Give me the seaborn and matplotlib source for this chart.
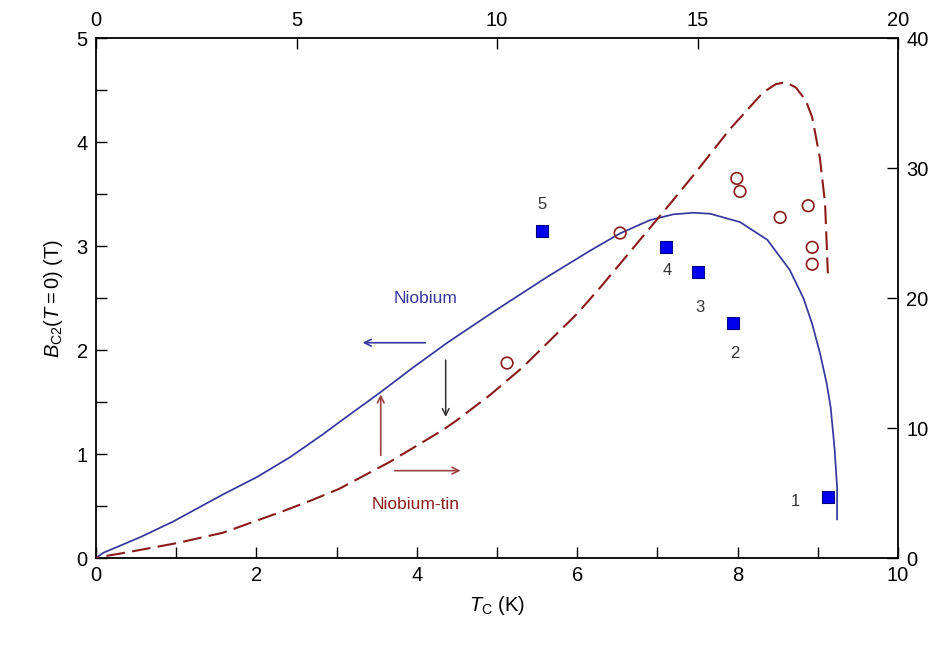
import matplotlib
matplotlib.use("Agg")
import matplotlib.pyplot as plt
import seaborn as sns
import pandas as pd
import numpy as np
from matplotlib.ticker import MultipleLocator

# Niobium curve (bottom / left axes)
nb_tc = [0.0, 0.09, 0.55, 0.96, 1.58, 2.01, 2.42, 2.83, 3.04, 3.54, 3.95, 4.38, 4.66, 5.0, 5.62,
         6.16, 6.53, 6.91, 7.2, 7.45, 7.66, 8.03, 8.37, 8.65, 8.82, 8.93, 9.03, 9.11, 9.16, 9.21, 9.24, 9.24]
nb_bc2 = [0.0, 0.05, 0.20, 0.35, 0.61, 0.78, 0.97, 1.19, 1.31, 1.59, 1.83, 2.07, 2.215, 2.39, 2.70,
          2.955, 3.12, 3.25, 3.305, 3.32, 3.31, 3.23, 3.06, 2.77, 2.50, 2.25, 1.96, 1.68, 1.45, 1.04, 0.68, 0.37]

# Niobium-tin curve (top / right axes)
nbsn_tc = [0.0, 0.1, 0.67, 2.02, 3.17, 4.66, 5.34, 6.05, 7.33, 8.65, 9.0, 9.83, 10.65, 12.0, 12.57,
           13.14, 13.49, 14.06, 14.49, 14.99, 15.81, 16.63, 16.95, 17.2, 17.45, 17.7, 17.86, 18.05, 18.18, 18.25]
nbsn_bc2 = [0.0, 0.08, 0.38, 1.15, 1.95, 3.6, 4.4, 5.3, 7.4, 9.85, 10.6, 12.55, 14.7, 18.8, 20.8,
            22.9, 24.2, 26.3, 27.9, 29.8, 33.0, 35.8, 36.45, 36.6, 36.2, 35.2, 33.9, 30.8, 27.3, 21.9]

# Blue squares (bottom / left)
sq_tc = [9.13, 7.94, 7.51, 7.11, 5.56]
sq_bc2 = [0.59, 2.26, 2.75, 2.99, 3.14]
sq_labels = ["1", "2", "3", "4", "5"]
sq_label_x = [8.72, 7.97, 7.53, 7.12, 5.56]
sq_label_y = [0.54, 1.97, 2.41, 2.76, 3.40]

# Open circles (top / right)
circ_tc = [10.25, 13.07, 15.98, 16.06, 17.06, 17.76, 17.86, 17.86]
circ_bc2 = [15.0, 25.0, 29.2, 28.2, 26.2, 27.1, 23.9, 22.6]

sns.set_theme(style="ticks")
plt.rcParams["font.family"] = ["Liberation Sans", "DejaVu Sans"]
plt.rcParams["mathtext.fontset"] = "custom"
plt.rcParams["mathtext.rm"] = "Liberation Sans"
plt.rcParams["mathtext.it"] = "Liberation Sans:italic"
plt.rcParams["text.color"] = "black"
plt.rcParams["axes.labelcolor"] = "black"
plt.rcParams["xtick.color"] = "black"
plt.rcParams["ytick.color"] = "black"

BLUE = "#36369c"
RED = "#8b1a1a"
FS = 14.5
DPI = 100

fig = plt.figure(figsize=(9.45, 6.5), dpi=DPI)
pos = [0.1016, 0.1415, 0.8487, 0.80]
ax = fig.add_axes(pos)
ax2 = fig.add_axes(pos, frameon=False)

nb = pd.DataFrame({"tc": nb_tc, "bc2": nb_bc2})
nbsn = pd.DataFrame({"tc": nbsn_tc, "bc2": nbsn_bc2})
sq = pd.DataFrame({"tc": sq_tc, "bc2": sq_bc2})
ci = pd.DataFrame({"tc": circ_tc, "bc2": circ_bc2})

sns.lineplot(data=nb, x="tc", y="bc2", sort=False, color=BLUE, lw=1.25, ax=ax, estimator=None)
ax.lines[0].set_solid_joinstyle("round")
sns.scatterplot(data=sq, x="tc", y="bc2", marker="s", s=85, color="#0000ee", edgecolor="#000080", linewidth=0.8, ax=ax, zorder=5)
for lx, ly, lb in zip(sq_label_x, sq_label_y, sq_labels):
    ax.text(lx, ly, lb, ha="center", va="center", fontsize=12, color="#333333")

LW_RED = 1.5
sns.lineplot(data=nbsn, x="tc", y="bc2", sort=False, color=RED, lw=LW_RED, ax=ax2, estimator=None)
sns.scatterplot(data=ci, x="tc", y="bc2", marker="o", s=70, facecolor="none", edgecolor=RED, linewidth=1.2, ax=ax2, zorder=5)

ax.set_xlim(0, 10)
ax.set_ylim(0, 5)
ax2.set_xlim(0, 20)
ax2.set_ylim(0, 40)

# dash phase so the dashed curve ends on a dash
DASH, GAP = 9.0, 3.5
pix = ax2.transData.transform(np.column_stack([nbsn_tc, nbsn_bc2]))
L_units = np.sum(np.hypot(*np.diff(pix, axis=0).T)) * 72.0 / DPI / LW_RED
period = DASH + GAP
offset = (DASH * 0.85 - L_units) % period
ax2.lines[0].set_linestyle((offset, (DASH, GAP)))

ax.xaxis.set_major_locator(MultipleLocator(2))
ax.xaxis.set_minor_locator(MultipleLocator(1))
ax.yaxis.set_major_locator(MultipleLocator(1))
ax.yaxis.set_minor_locator(MultipleLocator(0.5))
ax2.xaxis.set_major_locator(MultipleLocator(5))
ax2.yaxis.set_major_locator(MultipleLocator(10))

ax2.xaxis.tick_top()
ax2.yaxis.tick_right()
ax2.xaxis.set_label_position("top")
ax2.yaxis.set_label_position("right")
ax2.set_xlabel("")
ax2.set_ylabel("")
ax2.patch.set_visible(False)

for a in (ax, ax2):
    a.tick_params(which="major", direction="in", length=8, width=1.0, labelsize=FS,
                  color="black", labelcolor="black", pad=6)
    a.tick_params(which="minor", direction="in", length=8, width=1.0, color="black")
ax.tick_params(top=False, right=False, which="both")
ax2.tick_params(bottom=False, left=False, labelbottom=False, labelleft=False, which="both")

for s in ax.spines.values():
    s.set_visible(True)
    s.set_color("black")
    s.set_linewidth(1.3)

ax.set_xlabel(r"$T_{\rm C}$ (K)", fontsize=FS, labelpad=6, color="black")
ax.set_ylabel(r"$B_{\rm C2}(T = 0)$ (T)", fontsize=FS, labelpad=8, color="black")

# Annotations
ax.annotate("", xy=(3.29, 2.07), xytext=(4.14, 2.07),
            arrowprops=dict(arrowstyle="->", color=BLUE, lw=1.2))
ax.annotate("", xy=(4.36, 1.33), xytext=(4.36, 1.93),
            arrowprops=dict(arrowstyle="->", color="#333333", lw=1.1))
ax.annotate("", xy=(3.55, 1.60), xytext=(3.55, 0.96),
            arrowprops=dict(arrowstyle="->", color="#9a4040", lw=1.2))
ax.annotate("", xy=(4.58, 0.84), xytext=(3.69, 0.84),
            arrowprops=dict(arrowstyle="->", color="#9a4040", lw=1.2))
ax.text(4.11, 2.5, "Niobium", ha="center", va="center", fontsize=12.5, color=BLUE)
ax.text(3.98, 0.51, "Niobium-tin", ha="center", va="center", fontsize=12.5, color=RED)

fig.savefig("out.png", dpi=DPI, facecolor="white")
